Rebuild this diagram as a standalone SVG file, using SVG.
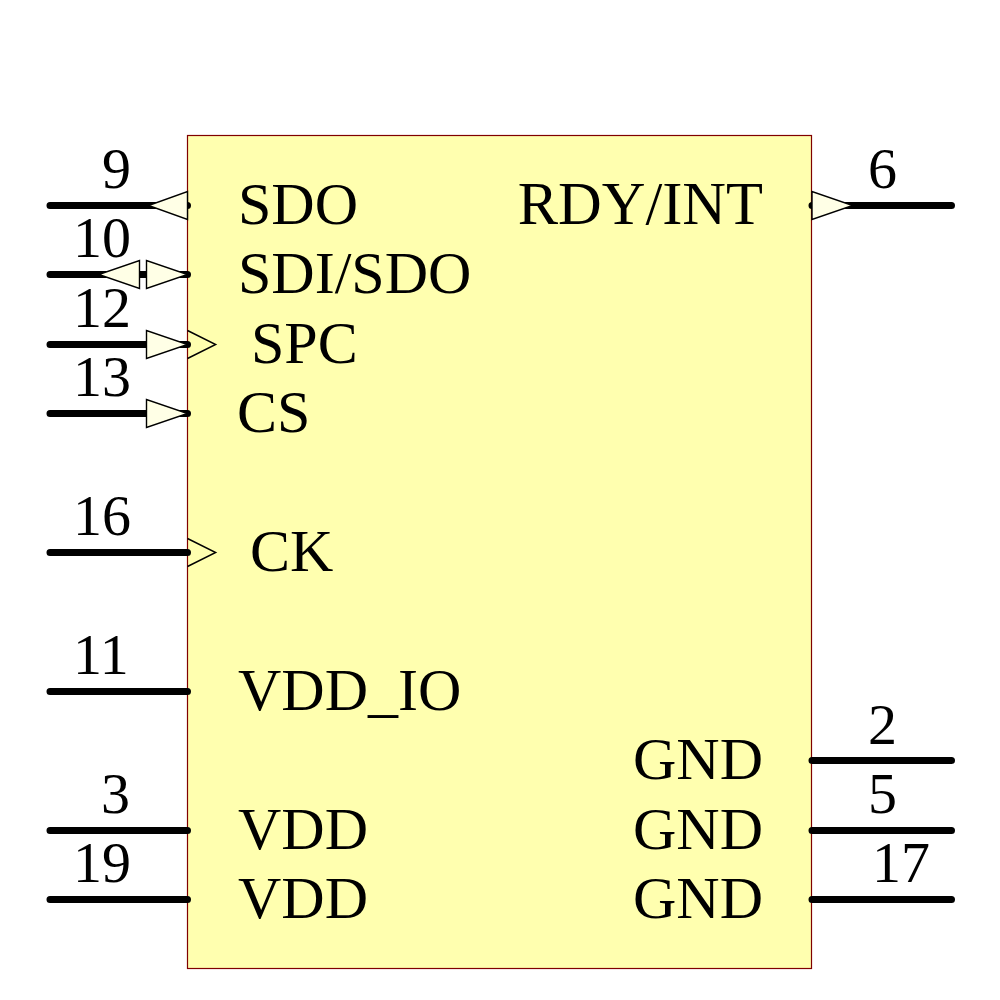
<svg xmlns="http://www.w3.org/2000/svg" width="1000" height="1000" viewBox="0 0 1000 1000">
<style>
text{font-family:"Liberation Serif","Times New Roman",serif;font-size:60px;fill:#000}
.n{font-size:58px}
.e{text-anchor:end}
.w{stroke:#000;stroke-width:7;stroke-linecap:round;fill:none}
.t{fill:#ffffe6;stroke:#000;stroke-width:1.400}
.c{fill:none;stroke:#000;stroke-width:1.400}
</style>
<g id="body"><rect x="187.500" y="135.500" width="624" height="833" fill="#ffffaf" stroke="#800000" stroke-width="1.200"/></g>
<g id="connectors">
<path class="w" d="M50 205.500H187.500M50 274.500H187.500M50 344.500H187.500M50 413.500H187.500M50 552.500H187.500M50 691.500H187.500M50 830.500H187.500M50 899.500H187.500M812 205.500H951.500M812 760.500H951.500M812 830.500H951.500M812 899.500H951.500"/>
</g>
<g id="pin9"><polygon class="t" points="187.500,191.500 187.500,219.500 148.500,205.500"/><text class="n" x="102" y="188">9</text><text x="238" y="223.500">SDO</text></g>
<g id="pin10"><polygon class="t" points="139.500,260.500 139.500,288.500 98.700,274.500"/><polygon class="t" points="146.500,260.500 146.500,288.500 187.500,274.500"/><text class="n" x="73" y="257">10</text><text x="238" y="292.500">SDI/SDO</text></g>
<g id="pin12"><polygon class="t" points="146.500,330.500 146.500,358.500 187.500,344.500"/><polyline class="c" points="187.500,330.500 215.700,344.500 187.500,358.500"/><text class="n" x="73" y="327">12</text><text x="251" y="362.500">SPC</text></g>
<g id="pin13"><polygon class="t" points="146.500,399.500 146.500,427.500 187.500,413.500"/><text class="n" x="73" y="396">13</text><text x="237" y="431.500">CS</text></g>
<g id="pin16"><polyline class="c" points="187.500,538.500 215.700,552.500 187.500,566.500"/><text class="n" x="73" y="535">16</text><text x="250" y="570.500">CK</text></g>
<g id="pin11"><text class="n" x="73" y="674">11</text><text x="238" y="709.500">VDD_IO</text></g>
<g id="pin3"><text class="n" x="101" y="813">3</text><text x="238" y="848.500">VDD</text></g>
<g id="pin19"><text class="n" x="73" y="882">19</text><text x="238" y="917.500">VDD</text></g>
<g id="pin6"><polygon class="t" points="812,191.500 812,219.500 852.700,205.500"/><text class="n" x="868" y="188">6</text><text class="e" x="763" y="223.500" style="font-size:60.500px">RDY/INT</text></g>
<g id="pin2"><text class="n" x="868" y="744">2</text><text class="e" x="763" y="778.500">GND</text></g>
<g id="pin5"><text class="n" x="868" y="813">5</text><text class="e" x="763" y="848.500">GND</text></g>
<g id="pin17"><text class="n" x="872" y="882">17</text><text class="e" x="763" y="917.500">GND</text></g>
</svg>
